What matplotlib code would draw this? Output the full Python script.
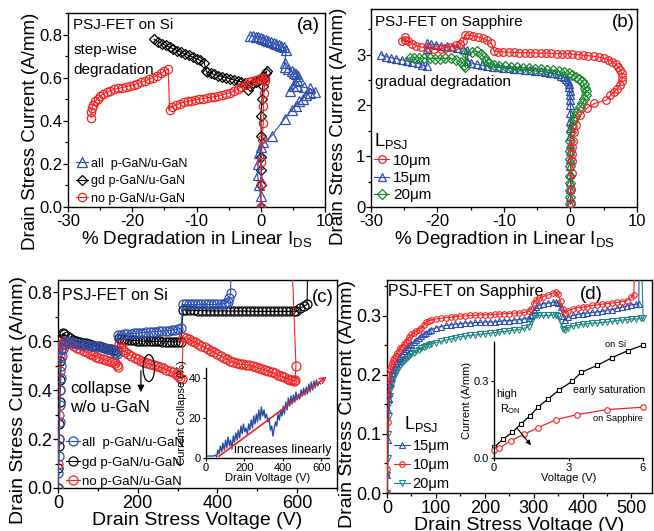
import matplotlib
matplotlib.use('Agg')
import matplotlib.pyplot as plt
from matplotlib.patches import Ellipse
from matplotlib.ticker import MultipleLocator, FormatStrFormatter

plt.rcParams['font.family'] = ['Liberation Sans', 'DejaVu Sans']
plt.rcParams['mathtext.fontset'] = 'custom'
plt.rcParams['mathtext.rm'] = 'Liberation Sans'
plt.rcParams['mathtext.it'] = 'Liberation Sans:italic'
plt.rcParams['mathtext.bf'] = 'Liberation Sans:bold'
plt.rcParams['axes.linewidth'] = 1.0
plt.rcParams['axes.unicode_minus'] = False

# ---------------- data (a) : PSJ-FET on Si ----------------
a_all_x = [0, 0, -0.3, -0.5, -0.4, -0.2, 0.1, 0.4, 1.7, 3.7, 4.8, 5.5, 6.0, 6.5, 7.0, 7.6, 8.5,
           7.6, 6.8, 5.7, 4.5, 5.0, 5.6, 5.8, 5.5, 5.2, 4.8, 4.3, 3.8, 3.7, 4.0, 3.6, 3.2, 2.8,
           2.4, 2.0, 1.6, 1.2, 0.8, 0.4, 0.0, -0.4, -0.8, -1.2, -1.7]
a_all_y = [0.0, 0.05, 0.1, 0.15, 0.2, 0.25, 0.28, 0.3, 0.33, 0.41, 0.45, 0.47, 0.49, 0.5, 0.52, 0.53, 0.535,
           0.55, 0.555, 0.56, 0.54, 0.56, 0.59, 0.61, 0.615, 0.62, 0.63, 0.64, 0.65, 0.67, 0.73, 0.74, 0.745, 0.75,
           0.755, 0.76, 0.765, 0.77, 0.775, 0.78, 0.785, 0.788, 0.79, 0.793, 0.795]
a_gd_x = [0, 0, 0.1, 0, 0.1, 0, 0.2, 0.3, 0.5, 0.8, 0.9,
          0.4, -0.2, -0.7, -1.2, -1.7, -2.0, -2.5, -3.0, -3.6, -4.2, -4.8, -5.4, -6.0, -6.6, -7.2, -7.8,
          -8.3, -8.5, -8.8, -9.4, -10.0, -10.6, -11.2, -11.8, -12.4, -13.0, -13.6, -14.2, -14.8, -15.4,
          -16.0, -16.6]
a_gd_y = [0.0, 0.1, 0.17, 0.23, 0.33, 0.42, 0.5, 0.56, 0.6, 0.62, 0.63,
          0.61, 0.59, 0.58, 0.575, 0.56, 0.545, 0.575, 0.58, 0.585, 0.59, 0.595, 0.6, 0.605, 0.61, 0.615, 0.62,
          0.625, 0.632, 0.67, 0.68, 0.688, 0.695, 0.703, 0.71, 0.718, 0.726, 0.733, 0.742, 0.75, 0.758,
          0.767, 0.778]
a_no_x = [0, 0, 0.1, 0.2, 0.4, 0.4, 0.5, 0.6, 0.6,
          0.2, -0.3, -0.8, -1.3, -1.8, -2.4, -3.0, -3.6, -4.2, -4.8, -5.4, -6.0, -6.6, -7.2, -7.8, -8.4,
          -9.0, -9.6, -10.2, -10.8, -11.4, -12.0, -12.6, -13.2, -13.8, -14.2,
          -14.4, -15.0, -15.6, -16.2, -16.8, -17.4, -18.0, -18.6, -19.2, -19.8, -20.4, -21.0, -21.6, -22.2,
          -22.8, -23.4, -24.0, -24.5, -25.0, -25.4, -25.8, -26.1, -26.3, -26.4, -26.4]
a_no_y = [0.0, 0.105, 0.21, 0.315, 0.39, 0.47, 0.53, 0.585, 0.6,
          0.598, 0.594, 0.59, 0.585, 0.578, 0.568, 0.558, 0.548, 0.538, 0.53, 0.525, 0.52, 0.515, 0.512, 0.509, 0.506,
          0.503, 0.5, 0.497, 0.494, 0.49, 0.486, 0.48, 0.474, 0.466, 0.452,
          0.64, 0.63, 0.62, 0.61, 0.6, 0.592, 0.585, 0.578, 0.572, 0.567, 0.562, 0.558, 0.554, 0.55,
          0.546, 0.54, 0.533, 0.525, 0.515, 0.503, 0.49, 0.475, 0.46, 0.44, 0.415]

# ---------------- data (b) : PSJ-FET on Sapphire ----------------
b_10_x = [0.1, 0.1, 0.2, 0.2, 0.3, 0.3, 0.4, 0.6, 0.9, 1.5, 2.5, 3.6, 5.3, 6.0, 6.6, 7.0, 7.4, 7.7, 7.8, 7.7,
          7.5, 7.2, 6.8, 6.3, 5.7, 5.0, 4.3, 3.5, 2.7, 1.9, 1.1, 0.3, -0.5, -1.3, -2.1, -2.9, -3.7, -4.5, -5.3,
          -6.1, -6.9, -7.7, -8.5, -9.3, -10.1, -10.9, -11.5, -11.9, -12.5, -13.2, -13.9, -14.6, -15.3, -15.9,
          -16.1, -16.6, -17.2, -18.0, -18.8, -19.5, -20.5, -21.5, -22.5, -23.2, -23.8, -24.4, -24.9, -25.3, -24.9]
b_10_y = [0.07, 0.35, 0.66, 0.9, 1.05, 1.18, 1.3, 1.48, 1.62, 1.81, 1.95, 2.04, 2.1, 2.2, 2.27, 2.33, 2.4, 2.48, 2.56, 2.64,
          2.7, 2.76, 2.81, 2.86, 2.9, 2.93, 2.95, 2.97, 2.98, 2.99, 3.0, 3.01, 3.015, 3.02, 3.02, 3.025, 3.03, 3.03, 3.035,
          3.035, 3.04, 3.04, 3.045, 3.05, 3.055, 3.06, 3.07, 3.23, 3.28, 3.32, 3.35, 3.37, 3.38, 3.39,
          3.26, 3.22, 3.19, 3.16, 3.14, 3.12, 3.12, 3.13, 3.15, 3.18, 3.22, 3.26, 3.29, 3.27, 3.35]
b_15_x = [0, 0, 0, 0, 0, 0, 0, 0, 0, 0, 0, 0, 0, 0,
          -0.05, -0.1, -0.15, -0.2, -0.3, -0.45, -0.7, -1.0, -1.4, -1.9, -2.5, -3.1, -3.8, -4.5, -5.3, -6.1,
          -6.9, -7.7, -8.5, -9.3, -10.1, -10.9, -11.7, -12.5, -13.3, -14.1, -14.9, -15.5, -15.6, -16.2, -17.0,
          -17.8, -18.6, -19.4, -20.2, -21.0, -21.6, -21.6, -21.6, -22.3, -23.0, -23.8, -24.6, -25.4, -26.2,
          -27.0, -27.8, -28.5]
b_15_y = [0.05, 0.2, 0.35, 0.5, 0.65, 0.8, 0.95, 1.1, 1.25, 1.4, 1.55, 1.7, 1.85, 2.0,
          2.1, 2.2, 2.28, 2.36, 2.43, 2.49, 2.53, 2.56, 2.59, 2.61, 2.63, 2.645, 2.66, 2.67, 2.68, 2.69,
          2.7, 2.71, 2.72, 2.73, 2.74, 2.75, 2.76, 2.77, 2.79, 2.81, 2.84, 2.88, 3.1, 3.12, 3.14,
          3.16, 3.17, 3.18, 3.2, 3.21, 3.23, 3.11, 2.77, 2.8, 2.83, 2.86, 2.88, 2.9, 2.92,
          2.94, 2.96, 3.0]
b_20_x = [0, 0, 0, 0, 0, 0, 0, 0, 0, 0.1,
          0.2, 0.4, 0.7, 1.0, 1.4, 1.8, 2.1, 2.3, 2.3, 2.2, 2.0, 1.7, 1.3, 0.8, 0.3, -0.3, -1.0, -1.8, -2.6,
          -3.5, -4.4, -5.3, -6.2, -7.1, -8.0, -8.9, -9.8, -10.7, -11.5, -12.2, -12.7, -13.0, -13.5, -14.0,
          -14.8, -15.8, -15.8, -16.0, -16.5, -17.2, -18.0, -18.8, -19.6, -20.4, -21.2, -22.0, -22.8, -23.6, -24.2]
b_20_y = [0.05, 0.2, 0.33, 0.48, 0.62, 0.8, 0.95, 1.1, 1.3, 1.48,
          1.6, 1.71, 1.8, 1.88, 1.96, 2.04, 2.12, 2.2, 2.28, 2.35, 2.42, 2.48, 2.53, 2.57, 2.6, 2.63, 2.65, 2.67, 2.69,
          2.7, 2.71, 2.72, 2.73, 2.74, 2.75, 2.76, 2.77, 2.78, 2.8, 2.83, 2.87, 2.95, 3.02, 3.07,
          3.05, 3.03, 2.75, 2.8, 2.86, 2.9, 2.93, 2.93, 2.92, 2.92, 2.93, 2.93, 2.93, 2.94, 2.94]

# ---------------- data (c) : stress current vs voltage, Si ----------------
c_all_v = [0, 1, 2, 3, 4, 5, 6, 7, 8, 10, 12, 15, 20, 27, 35, 43, 51, 59, 67, 75, 83, 91, 99, 107, 115, 123,
           131, 138, 144, 148, 151, 158, 166, 174, 182, 190, 198, 206, 214, 222, 230, 238, 246, 254, 262,
           270, 278, 286, 294, 302, 309, 313, 320, 328, 336, 344, 352, 360, 368, 376, 384, 392, 400, 408,
           416, 422, 427, 430, 433, 435]
c_all_i = [0.0, 0.06, 0.13, 0.2, 0.27, 0.34, 0.4, 0.45, 0.5, 0.54, 0.57, 0.59, 0.6, 0.598, 0.595, 0.592, 0.59,
           0.588, 0.586, 0.584, 0.582, 0.58, 0.578, 0.576, 0.573, 0.57, 0.566, 0.56, 0.553, 0.548, 0.624, 0.627,
           0.629, 0.63, 0.631, 0.632, 0.633, 0.634, 0.635, 0.636, 0.637, 0.638, 0.639, 0.64, 0.641, 0.642, 0.643,
           0.645, 0.647, 0.649, 0.652, 0.75, 0.75, 0.75, 0.75, 0.75, 0.75, 0.75, 0.75, 0.75, 0.75, 0.75, 0.751,
           0.752, 0.753, 0.755, 0.762, 0.775, 0.795, 1.0]
c_gd_v = [0, 1, 2, 3, 4, 5, 6, 7, 9, 12, 16, 22, 30, 38, 46, 54, 62, 70, 78, 86, 94, 102, 110, 118, 126, 134,
          141, 147, 152, 158, 166, 174, 182, 190, 198, 206, 214, 222, 230, 238, 246, 254, 262, 270, 278, 286,
          294, 302, 308, 314, 322, 332, 342, 352, 362, 372, 382, 392, 402, 412, 422, 432, 442, 452, 462, 472,
          482, 492, 502, 512, 522, 532, 542, 552, 562, 572, 582, 592, 598, 608, 618, 625, 627]
c_gd_i = [0.0, 0.08, 0.17, 0.26, 0.35, 0.44, 0.52, 0.57, 0.61, 0.632, 0.628, 0.62, 0.612, 0.606, 0.601, 0.597,
          0.594, 0.591, 0.588, 0.585, 0.582, 0.579, 0.576, 0.573, 0.57, 0.567, 0.563, 0.56, 0.613, 0.61, 0.608,
          0.606, 0.604, 0.603, 0.602, 0.601, 0.6, 0.6, 0.6, 0.599, 0.599, 0.599, 0.598, 0.598, 0.598, 0.597,
          0.597, 0.597, 0.598, 0.728, 0.727, 0.726, 0.726, 0.725, 0.725, 0.725, 0.724, 0.724, 0.724, 0.724,
          0.724, 0.723, 0.723, 0.723, 0.723, 0.723, 0.723, 0.722, 0.722, 0.722, 0.722, 0.722, 0.722, 0.722,
          0.722, 0.722, 0.722, 0.722, 0.722, 0.735, 0.745, 0.75, 1.0]
c_no_v = [0, 1, 2, 3, 4, 5, 6, 7, 9, 12, 17, 24, 32, 40, 48, 56, 64, 72, 80, 88, 96, 104, 112, 120, 128, 136,
          142, 147, 151, 154, 158, 163, 169, 176, 184, 192, 200, 208, 216, 224, 232, 240, 248, 256, 264, 272,
          280, 288, 296, 302, 307, 311, 314, 320, 328, 336, 344, 352, 360, 368, 376, 384, 392, 400, 408, 416,
          424, 432, 440, 448, 456, 464, 472, 480, 488, 496, 504, 512, 520, 528, 536, 544, 552, 560, 568, 576,
          583, 588, 592, 595, 597, 583]
c_no_i = [0.0, 0.1, 0.2, 0.3, 0.4, 0.48, 0.54, 0.57, 0.585, 0.595, 0.6, 0.594, 0.587, 0.58, 0.573, 0.566, 0.56,
          0.554, 0.548, 0.542, 0.537, 0.532, 0.527, 0.523, 0.519, 0.515, 0.51, 0.504, 0.496, 0.59, 0.575, 0.565,
          0.557, 0.548, 0.54, 0.532, 0.526, 0.52, 0.514, 0.509, 0.505, 0.501, 0.497, 0.493, 0.489, 0.484, 0.479,
          0.472, 0.464, 0.456, 0.45, 0.444, 0.618, 0.614, 0.608, 0.602, 0.596, 0.589, 0.582, 0.575, 0.568, 0.561,
          0.554, 0.547, 0.54, 0.533, 0.526, 0.519, 0.514, 0.51, 0.507, 0.505, 0.503, 0.501, 0.498, 0.494, 0.49,
          0.486, 0.482, 0.478, 0.473, 0.468, 0.462, 0.457, 0.452, 0.447, 0.443, 0.44, 0.436, 0.44, 0.5, 1.1]

# inset (c): current collapse vs drain voltage
ic_v = [0, 10, 20, 30, 40, 50, 55, 62, 68, 75, 82, 88, 95, 102, 108, 115, 122, 128, 135, 142, 148, 155, 162,
        168, 175, 182, 188, 195, 202, 208, 215, 222, 228, 235, 242, 248, 255, 262, 268, 275, 282, 288, 295,
        302, 308, 315, 322, 328, 335, 342, 348, 355, 362, 368, 375, 382, 388, 395, 402, 408, 415, 422, 428,
        435, 442, 448, 455, 462, 468, 475, 482, 488, 495, 502, 508, 515, 522, 528, 535, 542, 548, 555, 562,
        568, 575, 582, 588, 595]
ic_c = [1, 1, 1, 1, 1, 1.5, 0.5, 4, 2, 6, 3, 7.5, 4, 9, 5, 10.5, 6, 9, 4.5, 11, 8, 12.5, 9, 14, 10, 16, 12, 17,
        13, 15, 12, 17, 14, 19, 15, 21, 17, 22, 18, 24, 19, 25.5, 21, 24, 20, 22, 18, 20, 14, 16, 11, 15, 18,
        16, 22, 19, 24, 21, 26, 22, 28, 24, 30, 26, 31, 27, 31.5, 28, 33, 29, 32, 29.5, 34, 31, 35, 31.5, 35.5,
        32, 37, 33, 38, 34, 38.5, 35, 39, 36, 38, 37]
ic_arrow_v = [55, 640]
ic_arrow_c = [0, 41.5]

# ---------------- data (d) : stress current vs voltage, Sapphire ----------------
d_v = [0, 1, 2, 3, 4, 5, 7, 9, 11, 13, 15, 18, 21, 24, 27, 30, 34, 38, 42, 46, 50, 55, 60, 65, 70, 75, 80,
       85, 90, 100, 110, 120, 130, 140, 150, 160, 170, 180, 190, 200, 210, 220, 230, 240, 250, 260, 270, 280,
       290, 295, 300, 305, 310, 320, 330, 340, 345, 350, 355, 360, 365, 370, 380, 390, 400, 410, 420, 430,
       440, 450, 460, 470, 480, 490, 500]
d_10 = [0.0, 0.04, 0.12, 0.17, 0.19, 0.2, 0.21, 0.215, 0.22, 0.225, 0.228, 0.232, 0.237, 0.241, 0.245, 0.248,
        0.252, 0.256, 0.26, 0.265, 0.269, 0.272, 0.274, 0.277, 0.28, 0.284, 0.29, 0.292, 0.293, 0.295, 0.296,
        0.297, 0.298, 0.299, 0.3, 0.3, 0.301, 0.301, 0.302, 0.302, 0.302, 0.303, 0.303, 0.304, 0.304, 0.305,
        0.305, 0.306, 0.308, 0.312, 0.322, 0.327, 0.33, 0.333, 0.336, 0.339, 0.341, 0.337, 0.325, 0.312, 0.305,
        0.309, 0.312, 0.314, 0.315, 0.316, 0.318, 0.319, 0.32, 0.321, 0.322, 0.323, 0.324, 0.326, 0.332]
d_15 = [0.0, 0.03, 0.09, 0.14, 0.16, 0.17, 0.185, 0.195, 0.203, 0.209, 0.214, 0.22, 0.224, 0.228, 0.232, 0.236,
        0.24, 0.244, 0.247, 0.25, 0.253, 0.256, 0.259, 0.263, 0.266, 0.269, 0.272, 0.275, 0.277, 0.28, 0.282,
        0.284, 0.285, 0.286, 0.287, 0.288, 0.288, 0.289, 0.289, 0.29, 0.29, 0.29, 0.291, 0.292, 0.292, 0.293,
        0.294, 0.295, 0.297, 0.302, 0.31, 0.315, 0.318, 0.321, 0.322, 0.323, 0.324, 0.322, 0.315, 0.3, 0.293,
        0.298, 0.301, 0.303, 0.304, 0.305, 0.306, 0.307, 0.308, 0.31, 0.311, 0.313, 0.315, 0.317, 0.319]
d_20 = [0.0, 0.03, 0.06, 0.1, 0.13, 0.15, 0.165, 0.178, 0.187, 0.193, 0.198, 0.204, 0.209, 0.213, 0.217, 0.22,
        0.224, 0.227, 0.23, 0.233, 0.236, 0.238, 0.241, 0.243, 0.245, 0.247, 0.249, 0.251, 0.253, 0.255, 0.257,
        0.259, 0.261, 0.263, 0.265, 0.266, 0.267, 0.268, 0.269, 0.27, 0.271, 0.272, 0.273, 0.274, 0.275, 0.276,
        0.277, 0.279, 0.282, 0.29, 0.3, 0.301, 0.301, 0.301, 0.301, 0.302, 0.302, 0.3, 0.29, 0.278, 0.276,
        0.28, 0.283, 0.285, 0.286, 0.287, 0.288, 0.288, 0.289, 0.29, 0.291, 0.292, 0.293, 0.294, 0.295]
d_10_tail_v = [505, 509]
d_10_tail_i = [0.336, 0.5]
d_15_tail_v = [510, 515, 517]
d_15_tail_i = [0.32, 0.321, 0.5]
d_20_tail_v = [510, 520, 524, 517]
d_20_tail_i = [0.295, 0.296, 0.296, 0.5]

# inset (d): output curves
id_si_v = [0.0, 0.38, 0.74, 1.08, 1.45, 1.79, 2.19, 2.62, 3.14, 3.51, 4.15, 4.75, 5.38, 6.0]
id_si_i = [0.041, 0.074, 0.1, 0.132, 0.164, 0.199, 0.23, 0.264, 0.297, 0.332, 0.359, 0.389, 0.416, 0.438]
id_sa_v = [0.0, 0.2, 0.67, 1.21, 1.79, 2.5, 3.34, 4.55, 6.0]
id_sa_i = [0.03, 0.037, 0.067, 0.092, 0.118, 0.149, 0.168, 0.188, 0.197]

# ---------------- styling ----------------
BLUE = '#2f4fae'
RED = '#f52222'
GREEN = '#16882a'
TEAL = '#1f8585'
W, H = 654, 531

fig = plt.figure(figsize=(6.54, 5.31), dpi=100)


def axpos(l, t, r, b):
    return [l / W, 1 - b / H, (r - l) / W, (b - t) / H]


def style(ax, fs=12.5):
    ax.tick_params(which='both', direction='out', labelsize=fs, width=0.9)
    ax.tick_params(axis='y', pad=0.5)
    ax.tick_params(axis='x', pad=1.5)
    ax.tick_params(which='major', length=3.5)
    ax.tick_params(which='minor', length=2.2)


axa = fig.add_axes(axpos(68, 13, 325, 207))
axb = fig.add_axes(axpos(371, 9, 637, 207))
axc = fig.add_axes(axpos(58, 280, 337, 488))
axd = fig.add_axes(axpos(387, 280, 652, 493))

# ---- (a)
axa.plot(a_gd_x, a_gd_y, color='k', marker='D', ms=5.5, mfc='none', mew=0.9, lw=0.8,
         label='gd p-GaN/u-GaN', zorder=2)
axa.plot(a_all_x, a_all_y, color=BLUE, marker='^', ms=6.5, mfc='none', mew=0.9, lw=0.8,
         label='all  p-GaN/u-GaN', zorder=3)
axa.plot(a_no_x, a_no_y, color=RED, marker='o', ms=6, mfc='none', mew=0.9, lw=0.8,
         label='no p-GaN/u-GaN', zorder=4)
axa.set_xlim(-30, 10)
axa.set_ylim(0, 0.9)
axa.set_xticks([-30, -20, -10, 0, 10])
axa.set_yticks([0.0, 0.2, 0.4, 0.6, 0.8])
axa.yaxis.set_major_formatter(FormatStrFormatter('%.1f'))
axa.xaxis.set_minor_locator(MultipleLocator(5))
axa.yaxis.set_minor_locator(MultipleLocator(0.1))
style(axa, 12)
axa.set_ylabel('Drain Stress Current (A/mm)', fontsize=13.5)
axa.yaxis.set_label_coords(-0.112, 0.39)
axa.set_xlabel('% Degradation in Linear $\\mathregular{I_{DS}}$', fontsize=13.5, labelpad=0)
axa.text(0.02, 0.938, 'PSJ-FET on Si', transform=axa.transAxes, fontsize=11, va='center')
axa.text(0.02, 0.81, 'step-wise', transform=axa.transAxes, fontsize=11, va='center')
axa.text(0.02, 0.706, 'degradation', transform=axa.transAxes, fontsize=11, va='center')
axa.text(0.98, 0.938, '(a)', transform=axa.transAxes, fontsize=13.5, va='center', ha='right')
h, l = axa.get_legend_handles_labels()
axa.legend([h[1], h[0], h[2]], [l[1], l[0], l[2]], loc='upper left', bbox_to_anchor=(0.03, 0.255),
           frameon=False, fontsize=9, borderpad=0, borderaxespad=0, handlelength=1.0,
           handletextpad=0.25, labelspacing=0.45)

# ---- (b)
axb.plot(b_15_x, b_15_y, color=BLUE, marker='^', ms=5.5, mfc='none', mew=0.9, lw=0.8,
         label='15\u03bcm', zorder=2)
axb.plot(b_20_x, b_20_y, color=GREEN, marker='D', ms=5, mfc='none', mew=0.9, lw=0.8,
         label='20\u03bcm', zorder=3)
axb.plot(b_10_x, b_10_y, color=RED, marker='o', ms=5.5, mfc='none', mew=0.9, lw=0.8,
         label='10\u03bcm', zorder=4)
axb.set_xlim(-30, 10)
axb.set_ylim(0, 3.9)
axb.set_xticks([-30, -20, -10, 0, 10])
axb.set_yticks([0, 1, 2, 3])
axb.xaxis.set_minor_locator(MultipleLocator(5))
axb.yaxis.set_minor_locator(MultipleLocator(0.5))
style(axb, 12)
axb.set_ylabel('Drain Stress Current (A/mm)', fontsize=13.5)
axb.yaxis.set_label_coords(-0.09, 0.41)
axb.set_xlabel('% Degradtion in Linear $\\mathregular{I_{DS}}$', fontsize=13.5, labelpad=0)
axb.text(0.015, 0.934, 'PSJ-FET on Sapphire', transform=axb.transAxes, fontsize=11, va='center')
axb.text(0.99, 0.934, '(b)', transform=axb.transAxes, fontsize=13.5, va='center', ha='right')
axb.text(0.015, 0.63, 'gradual degradation', transform=axb.transAxes, fontsize=11, va='center')
h, l = axb.get_legend_handles_labels()
axb.legend([h[2], h[0], h[1]], [l[2], l[0], l[1]], loc='upper left', bbox_to_anchor=(0.012, 0.385),
           frameon=False, fontsize=11, title='L$\\mathregular{_{PSJ}}$', title_fontsize=13,
           alignment='left', borderpad=0, borderaxespad=0, handlelength=1.0, handletextpad=0.25,
           labelspacing=0.2)

# ---- (c)
axc.plot(c_gd_v, c_gd_i, color='k', marker='o', ms=6.5, mfc='none', mew=0.9, lw=0.8,
         label='gd p-GaN/u-GaN', zorder=2)
axc.plot(c_no_v, c_no_i, color=RED, marker='o', ms=6.5, mfc='none', mew=0.9, lw=0.8,
         label='no p-GaN/u-GaN', zorder=3)
axc.plot(c_all_v, c_all_i, color=BLUE, marker='o', ms=6.5, mfc='none', mew=0.9, lw=0.8,
         label='all  p-GaN/u-GaN', zorder=4)
axc.set_xlim(0, 700)
axc.set_ylim(0, 0.85)
axc.set_xticks([0, 200, 400, 600])
axc.set_yticks([0.0, 0.2, 0.4, 0.6, 0.8])
axc.yaxis.set_major_formatter(FormatStrFormatter('%.1f'))
axc.xaxis.set_minor_locator(MultipleLocator(100))
axc.yaxis.set_minor_locator(MultipleLocator(0.1))
style(axc, 13)
axc.set_ylabel('Drain Stress Current (A/mm)', fontsize=14)
axc.yaxis.set_label_coords(-0.11, 0.423)
axc.set_xlabel('Drain Stress Voltage (V)', fontsize=14, labelpad=0)
axc.text(0.015, 0.925, 'PSJ-FET on Si', transform=axc.transAxes, fontsize=11.5, va='center')
axc.text(0.99, 0.918, '(c)', transform=axc.transAxes, fontsize=13.5, va='center', ha='right')
axc.text(0.043, 0.48, 'collapse', transform=axc.transAxes, fontsize=12, va='center')
axc.text(0.043, 0.385, 'w/o u-GaN', transform=axc.transAxes, fontsize=12, va='center')
axc.add_patch(Ellipse((228, 0.49), 29, 0.11, fill=False, ec='k', lw=0.9, zorder=5))
axc.annotate('', xy=(208, 0.38), xytext=(208, 0.49),
             arrowprops=dict(arrowstyle='-|>', color='k', lw=0.9, mutation_scale=10), zorder=5)
h, l = axc.get_legend_handles_labels()
axc.legend([h[2], h[0], h[1]], [l[2], l[0], l[1]], loc='lower left', bbox_to_anchor=(0.03, 0.0),
           frameon=False, fontsize=9.5, borderpad=0, borderaxespad=0, handlelength=1.0,
           handletextpad=0.2, labelspacing=0.55)

# inset (c)
insc = fig.add_axes(axpos(206, 368, 329, 458))
insc.patch.set_alpha(0)
insc.plot(ic_v, ic_c, color='#2b4ba3', lw=1.0)
insc.annotate('', xy=(ic_arrow_v[1], ic_arrow_c[1]), xytext=(ic_arrow_v[0], ic_arrow_c[0]),
              arrowprops=dict(arrowstyle='->', color=RED, lw=1.2, mutation_scale=10),
              annotation_clip=False)
insc.set_xlim(0, 640)
insc.set_ylim(0, 45)
insc.set_xticks([0, 200, 400, 600])
insc.set_yticks([0, 20, 40])
insc.spines['top'].set_visible(False)
insc.spines['right'].set_visible(False)
insc.tick_params(direction='out', length=2.5, labelsize=8, pad=1)
insc.set_xlabel('Drain Voltage (V)', fontsize=8, labelpad=0)
insc.set_ylabel('Current Collapse (%)', fontsize=8, labelpad=1)
insc.text(148, 4, 'increases linearly', fontsize=9, va='center', ha='left', clip_on=False)

# ---- (d)
axd.plot(d_v + d_10_tail_v, d_10 + d_10_tail_i, color=RED, marker='o', ms=4, mfc='none', mew=0.8,
         lw=0.8, label='10\u03bcm', zorder=4)
axd.plot(d_v + d_15_tail_v, d_15 + d_15_tail_i, color=BLUE, marker='^', ms=4, mfc='none', mew=0.8,
         lw=0.8, label='15\u03bcm', zorder=3)
axd.plot(d_v + d_20_tail_v, d_20 + d_20_tail_i, color=TEAL, marker='v', ms=4, mfc='none', mew=0.8,
         lw=0.8, label='20\u03bcm', zorder=2)
axd.set_xlim(0, 542)
axd.set_ylim(0, 0.361)
axd.set_xticks([0, 100, 200, 300, 400, 500])
axd.set_yticks([0.0, 0.1, 0.2, 0.3])
axd.yaxis.set_major_formatter(FormatStrFormatter('%.1f'))
axd.xaxis.set_minor_locator(MultipleLocator(50))
axd.yaxis.set_minor_locator(MultipleLocator(0.05))
style(axd, 13)
axd.set_ylabel('Drain Stress Current (A/mm)', fontsize=14)
axd.yaxis.set_label_coords(-0.117, 0.42)
axd.set_xlabel('Drain Stress Voltage (V)', fontsize=14, labelpad=0)
axd.text(0.005, 0.944, 'PSJ-FET on Sapphire', transform=axd.transAxes, fontsize=11.5, va='center')
axd.text(0.815, 0.93, '(d)', transform=axd.transAxes, fontsize=13.5, va='center', ha='right')
h, l = axd.get_legend_handles_labels()
axd.legend([h[1], h[0], h[2]], [l[1], l[0], l[2]], loc='lower left', bbox_to_anchor=(0.025, 0.01),
           frameon=False, fontsize=10.5, title='L$\\mathregular{_{PSJ}}$', title_fontsize=13,
           borderpad=0, borderaxespad=0, handlelength=1.1, handletextpad=0.2, labelspacing=0.35)

# inset (d)
insd = fig.add_axes(axpos(494, 342, 643, 458))
insd.patch.set_alpha(0)
insd.plot(id_si_v, id_si_i, color='k', marker='s', ms=3.5, mfc='white', mew=0.8, lw=0.9, clip_on=False)
insd.plot(id_sa_v, id_sa_i, color=RED, marker='o', ms=4, mfc='white', mew=0.8, lw=0.9, clip_on=False)
insd.set_xlim(0, 6)
insd.set_ylim(0, 0.45)
insd.set_xticks([0, 3, 6])
insd.set_yticks([0.0, 0.3])
insd.yaxis.set_major_formatter(FormatStrFormatter('%.1f'))
insd.spines['top'].set_visible(False)
insd.spines['right'].set_visible(False)
insd.tick_params(direction='out', length=2.5, labelsize=8, pad=1)
insd.set_xlabel('Voltage (V)', fontsize=8, labelpad=0)
insd.set_ylabel('Current (A/mm)', fontsize=8, labelpad=1)
insd.text(4.45, 0.44, 'on Si', fontsize=6.7, va='center')
insd.text(3.2, 0.263, 'early saturation', fontsize=7.6, va='center', clip_on=False)
insd.text(4.0, 0.155, 'on Sapphire', fontsize=6.7, va='center')
insd.text(0.08, 0.247, 'high', fontsize=7.8, va='center')
insd.text(0.25, 0.188, 'R$\\mathregular{_{ON}}$', fontsize=7.8, va='center')
insd.annotate('', xy=(1.56, 0.041), xytext=(0.85, 0.125),
              arrowprops=dict(arrowstyle='-|>', color='k', lw=0.8, mutation_scale=7))

fig.savefig('out.png', dpi=100)
